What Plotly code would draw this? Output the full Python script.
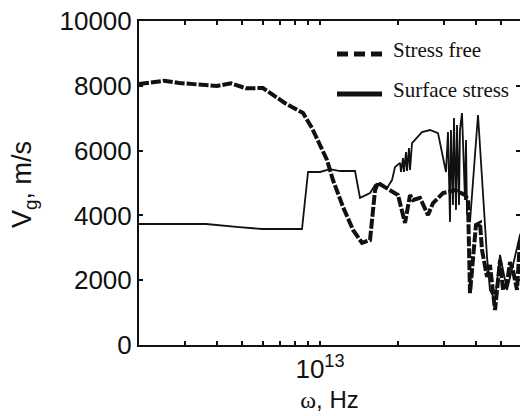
import plotly.graph_objects as go

# Group velocity vs angular frequency (log x axis)
freq_free = [2.0e12, 2.5e12, 2.86e12, 3.57e12, 4.0e12, 4.53e12, 5.18e12, 6.02e12,
             7.31e12, 8.6e12, 9.31e12, 1.0e13, 1.064e13, 1.122e13, 1.195e13, 1.227e13,
             1.341e13, 1.453e13, 1.56e13, 1.588e13, 1.631e13, 1.675e13, 1.863e13,
             2.0e13, 2.129e13, 2.226e13, 2.286e13, 2.433e13, 2.612e13, 2.731e13,
             2.985e13, 3.32e13, 3.629e13, 3.727e13, 3.794e13, 3.9e13, 4.0e13, 4.147e13,
             4.222e13, 4.415e13, 4.53e13, 4.74e13, 4.955e13, 5.09e13, 5.272e13,
             5.415e13, 5.562e13, 5.763e13, 5.918e13, 6.19e13]
vg_free = [8055, 8157, 8086, 8024, 7994, 8077, 7922, 7932,
           7469, 7160, 6697, 6172, 5710, 5093, 4475, 4260,
           3550, 3150, 3240, 3860, 4780, 5000, 4780,
           4630, 3765, 4630, 4475, 4540, 4010, 4380,
           4690, 4780, 4630, 4475, 1600, 2620, 3700, 3765,
           2930, 2100, 2470, 1080, 2620, 1700, 1900,
           2560, 2300, 1700, 3240, 3700]

freq_surf = [2.0e12, 3.63e12, 4.87e12, 5.97e12, 8.52e12, 8.83e12, 8.99e12, 1.0e13,
             1.093e13, 1.195e13, 1.365e13, 1.427e13, 1.56e13, 1.631e13, 1.705e13,
             1.814e13, 1.897e13, 1.948e13, 2.037e13, 2.055e13, 2.092e13, 2.11e13,
             2.148e13, 2.167e13, 2.206e13, 2.226e13, 2.266e13, 2.476e13, 2.659e13,
             2.855e13, 3.038e13, 3.065e13, 3.12e13, 3.176e13, 3.204e13, 3.261e13,
             3.29e13, 3.35e13, 3.381e13, 3.441e13, 3.471e13, 3.534e13, 3.629e13,
             3.661e13, 3.694e13, 3.794e13, 4.074e13, 4.415e13, 4.53e13, 4.74e13,
             4.955e13, 5.272e13, 5.562e13, 5.918e13, 6.19e13]
vg_surf = [3735, 3735, 3640, 3580, 3580, 4780, 5340, 5340,
           5430, 5370, 5370, 4540, 4690, 4940, 5000,
           4845, 5090, 5490, 5620, 5340, 5770, 5340,
           5955, 5370, 6080, 5400, 6230, 6570, 6635,
           6540, 5490, 5340, 6570, 3800, 6635, 4320,
           7005, 4170, 6790, 4320, 6635, 7160, 4475,
           6330, 4075, 3800, 7100, 2715, 1700, 1390,
           2780, 1700, 2470, 3395, 3700]

y_ticks = [0, 2000, 4000, 6000, 8000, 10000]
y_tick_text = ["0", "2000", "4000", "6000", "8000", "10000"]
x_ticks = [3e12, 4e12, 5e12, 6e12, 7e12, 8e12, 9e12, 1e13, 2e13, 3e13, 4e13, 5e13]
x_tick_text = ["", "", "", "", "", "", "", "10<sup>13</sup>", "", "", "", ""]
legend_names = ["Stress free", "Surface stress"]

INK = "#111111"
SANS = "Liberation Sans, Arial, sans-serif"
SERIF = "Liberation Serif, Times New Roman, serif"

fig = go.Figure()
fig.add_trace(go.Scatter(x=freq_surf, y=vg_surf, mode="lines", name=legend_names[1],
                         line=dict(color=INK, width=1.8), showlegend=False))
fig.add_trace(go.Scatter(x=freq_free, y=vg_free, mode="lines", name=legend_names[0],
                         line=dict(color=INK, width=4, dash="10px,2px"), showlegend=False))
# transparent copy on the right-hand axis so its inside ticks get drawn
fig.add_trace(go.Scatter(x=freq_free[:1], y=vg_free[:1], yaxis="y2", mode="markers",
                         marker=dict(opacity=0), showlegend=False, hoverinfo="skip"))

# legend drawn inside the axes
x0, x1 = (337 - 139) / 381, (382 - 139) / 381
tx = (391 - 139) / 381
rows = [((345 - 54) / 324, (345 - 50) / 324, "11px,6px"),
        ((345 - 94) / 324, (345 - 90) / 324, "solid")]
for (ly, ty, dash), name in zip(rows, legend_names):
    fig.add_shape(type="line", xref="paper", yref="paper", x0=x0, x1=x1, y0=ly, y1=ly,
                  line=dict(color=INK, width=5, dash=dash))
    fig.add_annotation(xref="paper", yref="paper", x=tx, y=ty, xanchor="left",
                       yanchor="middle", text=name, showarrow=False,
                       font=dict(family=SERIF, size=21, color=INK))

# vertical axis title
fig.add_annotation(xref="paper", yref="paper", x=(24 - 139) / 381, y=(345 - 185) / 324,
                   xanchor="center", yanchor="middle", textangle=-90, showarrow=False,
                   text="V<sub>g</sub>, m/s", font=dict(size=27, family=SANS, color=INK))

fig.update_layout(
    width=520, height=416,
    margin=dict(l=139, r=0, t=21, b=71),
    paper_bgcolor="white", plot_bgcolor="white",
    font=dict(family=SANS, color=INK),
    xaxis=dict(
        type="log", range=[12.30103, 13.7722],
        tickvals=x_ticks, ticktext=x_tick_text,
        ticks="inside", ticklen=4, tickwidth=1.5, tickcolor=INK,
        showline=True, linewidth=2, linecolor=INK, mirror="ticks",
        showgrid=False, zeroline=False,
        tickfont=dict(size=26, family=SANS, color=INK),
        title=dict(text="<span style='font-family:Liberation Serif'>ω</span>, Hz",
                   font=dict(size=24, family=SANS, color=INK), standoff=8),
    ),
    yaxis=dict(
        range=[0, 10000], tickvals=y_ticks, ticktext=y_tick_text,
        ticks="inside", ticklen=4, tickwidth=1.5, tickcolor=INK,
        showline=True, linewidth=2, linecolor=INK,
        showgrid=False, zeroline=False,
        tickfont=dict(size=26, family=SANS, color=INK),
    ),
    yaxis2=dict(
        overlaying="y", side="right", range=[0, 10000], tickvals=y_ticks,
        ticks="inside", ticklen=4, tickwidth=1.5, tickcolor=INK,
        showticklabels=False, showline=False, showgrid=False, zeroline=False,
    ),
)

fig.write_html("out.html")
